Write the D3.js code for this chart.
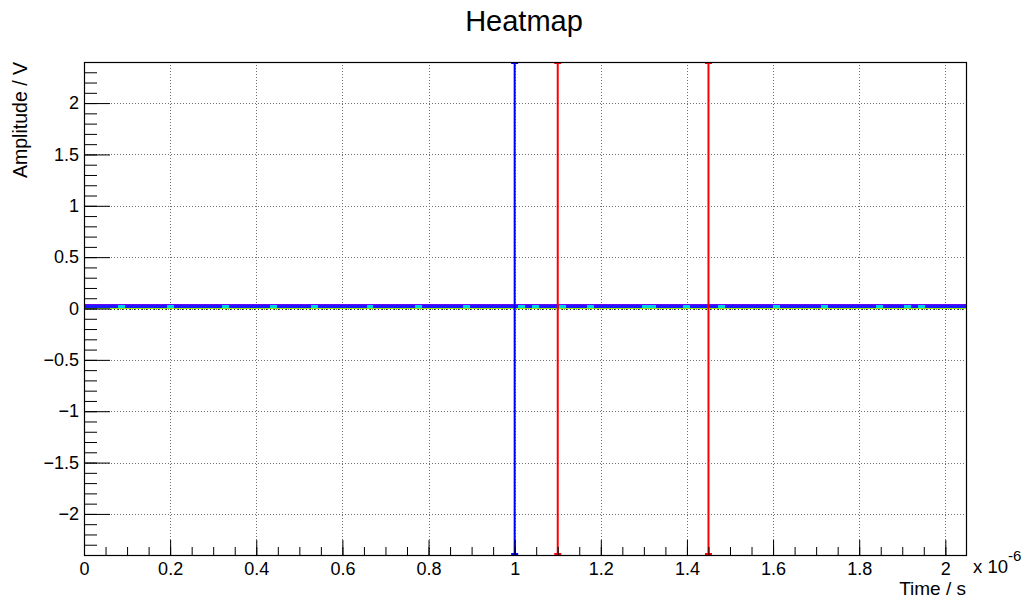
<!DOCTYPE html>
<html>
<head>
<meta charset="utf-8">
<script src="https://cdn.jsdelivr.net/npm/d3@7"></script>
<style>
  html, body { margin: 0; padding: 0; background: #fff; }
  svg { display: block; font-family: "Liberation Sans", Arial, Helvetica, sans-serif; }
</style>
</head>
<body>
<svg id="chart" width="1030" height="600"></svg>
<script>
// ---------------- data ----------------
const chartTitle = "Heatmap";
const xTitle = "Time / s";
const yTitle = "Amplitude / V";
const xDomain = [0, 2.048e-6];
const yDomain = [-2.4, 2.4];
const xMajorTicks = [0, 0.2e-6, 0.4e-6, 0.6e-6, 0.8e-6, 1.0e-6, 1.2e-6, 1.4e-6, 1.6e-6, 1.8e-6, 2.0e-6];
const xTickLabels = ["0", "0.2", "0.4", "0.6", "0.8", "1", "1.2", "1.4", "1.6", "1.8", "2"];
const yMajorTicks = [-2, -1.5, -1, -0.5, 0, 0.5, 1, 1.5, 2];
const yTickLabels = ["\u22122", "\u22121.5", "\u22121", "\u22120.5", "0", "0.5", "1", "1.5", "2"];

// heatmap rows (amplitude bin edges) and per time-bin contents (128 time bins)
const rowYLow  = [-0.006, 0.008, 0.030];
const rowYHigh = [ 0.005, 0.030, 0.040];
const rowBaseline = "77777777777777777777777777777777777777777777777777777777777777777777777777777777777777777777777777777777777777777777777777777777".split("").map(Number);
const rowSignal   = "22222422222242222222422222242222242222222422222242222224222222242422242224222222244222242222422222224222222422222224222424222222".split("").map(Number);
const rowUpper    = "11111111111111111111111111111111111111111111111111111111111111111111111111111111111111111111111111111111111111111111111111111111".split("").map(Number);
const rowValues = [rowBaseline, rowSignal, rowUpper];

// vertical marker lines
const markerTimes  = [1.0e-6, 1.1e-6, 1.45e-6];
const markerColors = ["#0000ff", "#ff0000", "#ff0000"];

// ---------------- chart ----------------
const svg = d3.select("#chart");
const L = 84, R = 966, T = 62, B = 555;
const x = d3.scaleLinear().domain(xDomain).range([L, R]);
const y = d3.scaleLinear().domain(yDomain).range([B, T]);
const color = d3.scaleLinear().domain([1, 2, 4, 7])
  .range(["#7000f0", "#1a1aff", "#00d0e8", "#9aea00"]);

// grid
const grid = svg.append("g").attr("stroke", "#707070").attr("stroke-width", 1).attr("stroke-dasharray", "1,2");
grid.selectAll("line.gx").data(xMajorTicks.slice(1)).join("line")
  .attr("x1", d => Math.round(x(d)) + 0.5).attr("x2", d => Math.round(x(d)) + 0.5)
  .attr("y1", T).attr("y2", B);
grid.selectAll("line.gy").data(yMajorTicks).join("line")
  .attr("y1", d => Math.round(y(d)) + 0.5).attr("y2", d => Math.round(y(d)) + 0.5)
  .attr("x1", L).attr("x2", R);

// heatmap cells
const nBins = rowBaseline.length;
const binW = (xDomain[1] - xDomain[0]) / nBins;
const cells = [];
rowValues.forEach((vals, r) => vals.forEach((v, i) => {
  if (v > 0) cells.push({ t0: xDomain[0] + i * binW, t1: xDomain[0] + (i + 1) * binW, y0: rowYLow[r], y1: rowYHigh[r], v });
}));
svg.append("g").attr("shape-rendering", "crispEdges")
  .selectAll("rect").data(cells).join("rect")
  .attr("x", d => x(d.t0)).attr("width", d => x(d.t1) - x(d.t0))
  .attr("y", d => y(d.y1)).attr("height", d => y(d.y0) - y(d.y1))
  .attr("fill", d => color(d.v));

// redraw zero grid line over heatmap
svg.append("line").attr("stroke", "#222").attr("stroke-dasharray", "1,3")
  .attr("x1", L + 26).attr("x2", R).attr("y1", Math.round(y(0)) + 0.5).attr("y2", Math.round(y(0)) + 0.5);

// markers
const mk = svg.append("g");
markerTimes.forEach((t, i) => {
  const g = mk.append("g").attr("stroke", markerColors[i]).attr("stroke-width", 2);
  g.append("line").attr("x1", x(t)).attr("x2", x(t)).attr("y1", y(yDomain[1])).attr("y2", y(yDomain[0]));
  g.append("line").attr("x1", x(t) - 3.5).attr("x2", x(t) + 3.5).attr("y1", y(yDomain[1]) + 1).attr("y2", y(yDomain[1]) + 1);
  g.append("line").attr("x1", x(t) - 3.5).attr("x2", x(t) + 3.5).attr("y1", y(yDomain[0]) - 1).attr("y2", y(yDomain[0]) - 1);
});

// axes
const xMinor = d3.range(0, 2.0481e-6, 0.05e-6);
const yMinor = d3.range(-2.4, 2.4001, 0.1).map(v => +v.toFixed(2));

const xMinorAxis = d3.axisBottom(x).tickValues(xMinor).tickSizeInner(-8).tickSizeOuter(0).tickFormat("");
const xMajorAxis = d3.axisBottom(x).tickValues(xMajorTicks).tickSizeInner(-15).tickSizeOuter(0).tickPadding(7)
  .tickFormat((d, i) => xTickLabels[i]);
const yMinorAxis = d3.axisLeft(y).tickValues(yMinor).tickSizeInner(-13).tickSizeOuter(0).tickFormat("");
const yMajorAxis = d3.axisLeft(y).tickValues(yMajorTicks).tickSizeInner(-26).tickSizeOuter(0).tickPadding(5)
  .tickFormat((d, i) => yTickLabels[i]);

function styleAxis(g) {
  g.select(".domain").remove();
  g.selectAll("line").attr("stroke", "#000");
  g.selectAll("text").attr("fill", "#000").style("font-size", "18px")
    .style("font-family", "'Liberation Sans', Arial, Helvetica, sans-serif");
}
svg.append("g").attr("transform", `translate(0,${B})`).call(xMinorAxis).call(styleAxis);
svg.append("g").attr("transform", `translate(0,${B})`).call(xMajorAxis).call(styleAxis);
svg.append("g").attr("transform", `translate(${L},0)`).call(yMinorAxis).call(styleAxis);
svg.append("g").attr("transform", `translate(${L},0)`).call(yMajorAxis).call(styleAxis);

// frame
svg.append("rect").attr("x", L + 0.5).attr("y", T + 0.5).attr("width", R - L).attr("height", B - T)
  .attr("fill", "none").attr("stroke", "#000").attr("stroke-width", 1.2);

// texts
svg.append("text").attr("x", 524).attr("y", 31).attr("text-anchor", "middle")
  .style("font-size", "29px").attr("fill", "#000").text(chartTitle);
svg.append("text").attr("x", 966).attr("y", 595).attr("text-anchor", "end")
  .style("font-size", "19px").attr("fill", "#000").text(xTitle);
svg.append("text").attr("transform", "translate(27,62) rotate(-90)").attr("text-anchor", "end")
  .style("font-size", "19.5px").attr("fill", "#000").text(yTitle);
const ex = svg.append("text").attr("x", 973).attr("y", 573).style("font-size", "18.5px").attr("fill", "#000");
ex.append("tspan").text("x 10");
ex.append("tspan").attr("dy", -12).style("font-size", "15px").text("-6");
</script>
</body>
</html>
